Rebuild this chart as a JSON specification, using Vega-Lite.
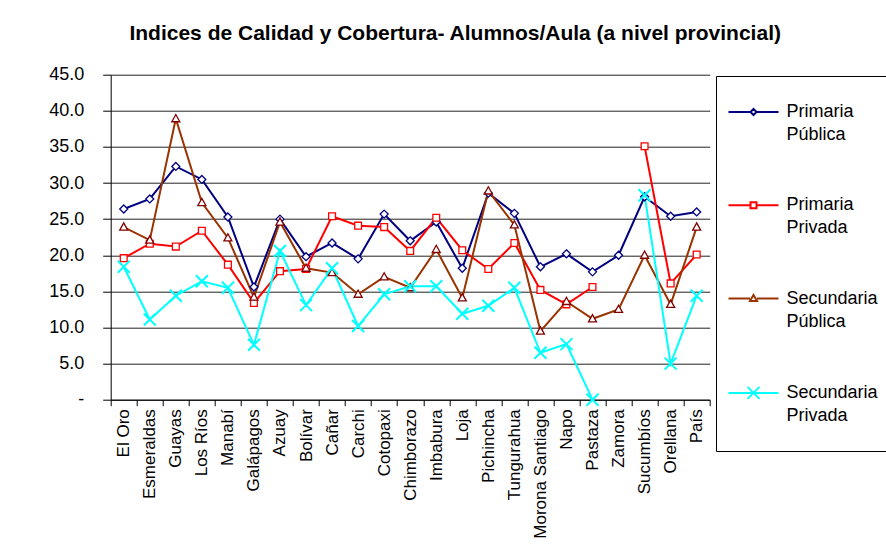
{
  "$schema": "https://vega.github.io/schema/vega-lite/v6.json",
  "width": 599,
  "height": 325,
  "autosize": {"type": "none"},
  "padding": {"left": 110.7, "top": 74.7, "right": 176.3, "bottom": 147.3},
  "background": "white",
  "config": {
    "font": "Liberation Sans",
    "view": {"stroke": null},
    "text": {"font": "Liberation Sans"}
  },
  "title": {
    "text": "Indices de Calidad y Cobertura- Alumnos/Aula (a nivel provincial)",
    "fontSize": 21,
    "fontWeight": "bold",
    "font": "Liberation Sans",
    "color": "black",
    "anchor": "middle",
    "dx": 45,
    "offset": 22
  },
  "data": {
    "values": [
      {"provincia": "El Oro", "serie": "Primaria Pública", "valor": 26.4},
      {"provincia": "Esmeraldas", "serie": "Primaria Pública", "valor": 27.8},
      {"provincia": "Guayas", "serie": "Primaria Pública", "valor": 32.3},
      {"provincia": "Los Ríos", "serie": "Primaria Pública", "valor": 30.5},
      {"provincia": "Manabí", "serie": "Primaria Pública", "valor": 25.3},
      {"provincia": "Galápagos", "serie": "Primaria Pública", "valor": 15.6},
      {"provincia": "Azuay", "serie": "Primaria Pública", "valor": 25.0},
      {"provincia": "Bolívar", "serie": "Primaria Pública", "valor": 19.8},
      {"provincia": "Cañar", "serie": "Primaria Pública", "valor": 21.7},
      {"provincia": "Carchi", "serie": "Primaria Pública", "valor": 19.5},
      {"provincia": "Cotopaxi", "serie": "Primaria Pública", "valor": 25.7},
      {"provincia": "Chimborazo", "serie": "Primaria Pública", "valor": 22.0},
      {"provincia": "Imbabura", "serie": "Primaria Pública", "valor": 24.6},
      {"provincia": "Loja", "serie": "Primaria Pública", "valor": 18.2},
      {"provincia": "Pichincha", "serie": "Primaria Pública", "valor": 28.6},
      {"provincia": "Tungurahua", "serie": "Primaria Pública", "valor": 25.8},
      {"provincia": "Morona Santiago", "serie": "Primaria Pública", "valor": 18.4},
      {"provincia": "Napo", "serie": "Primaria Pública", "valor": 20.2},
      {"provincia": "Pastaza", "serie": "Primaria Pública", "valor": 17.7},
      {"provincia": "Zamora", "serie": "Primaria Pública", "valor": 20.0},
      {"provincia": "Sucumbíos", "serie": "Primaria Pública", "valor": 28.1},
      {"provincia": "Orellana", "serie": "Primaria Pública", "valor": 25.4},
      {"provincia": "País", "serie": "Primaria Pública", "valor": 26.0},

      {"provincia": "El Oro", "serie": "Primaria Privada", "valor": 19.6},
      {"provincia": "Esmeraldas", "serie": "Primaria Privada", "valor": 21.6},
      {"provincia": "Guayas", "serie": "Primaria Privada", "valor": 21.2},
      {"provincia": "Los Ríos", "serie": "Primaria Privada", "valor": 23.4},
      {"provincia": "Manabí", "serie": "Primaria Privada", "valor": 18.7},
      {"provincia": "Galápagos", "serie": "Primaria Privada", "valor": 13.4},
      {"provincia": "Azuay", "serie": "Primaria Privada", "valor": 17.8},
      {"provincia": "Bolívar", "serie": "Primaria Privada", "valor": 18.1},
      {"provincia": "Cañar", "serie": "Primaria Privada", "valor": 25.4},
      {"provincia": "Carchi", "serie": "Primaria Privada", "valor": 24.1},
      {"provincia": "Cotopaxi", "serie": "Primaria Privada", "valor": 23.9},
      {"provincia": "Chimborazo", "serie": "Primaria Privada", "valor": 20.6},
      {"provincia": "Imbabura", "serie": "Primaria Privada", "valor": 25.2},
      {"provincia": "Loja", "serie": "Primaria Privada", "valor": 20.7},
      {"provincia": "Pichincha", "serie": "Primaria Privada", "valor": 18.1},
      {"provincia": "Tungurahua", "serie": "Primaria Privada", "valor": 21.7},
      {"provincia": "Morona Santiago", "serie": "Primaria Privada", "valor": 15.2},
      {"provincia": "Napo", "serie": "Primaria Privada", "valor": 13.2},
      {"provincia": "Pastaza", "serie": "Primaria Privada", "valor": 15.6},
      {"provincia": "Zamora", "serie": "Primaria Privada", "valor": null},
      {"provincia": "Sucumbíos", "serie": "Primaria Privada", "valor": 35.1},
      {"provincia": "Orellana", "serie": "Primaria Privada", "valor": 16.1},
      {"provincia": "País", "serie": "Primaria Privada", "valor": 20.1},

      {"provincia": "El Oro", "serie": "Secundaria Pública", "valor": 23.9},
      {"provincia": "Esmeraldas", "serie": "Secundaria Pública", "valor": 22.1},
      {"provincia": "Guayas", "serie": "Secundaria Pública", "valor": 38.9},
      {"provincia": "Los Ríos", "serie": "Secundaria Pública", "valor": 27.3},
      {"provincia": "Manabí", "serie": "Secundaria Pública", "valor": 22.4},
      {"provincia": "Galápagos", "serie": "Secundaria Pública", "valor": 14.2},
      {"provincia": "Azuay", "serie": "Secundaria Pública", "valor": 24.6},
      {"provincia": "Bolívar", "serie": "Secundaria Pública", "valor": 18.2},
      {"provincia": "Cañar", "serie": "Secundaria Pública", "valor": 17.6},
      {"provincia": "Carchi", "serie": "Secundaria Pública", "valor": 14.6},
      {"provincia": "Cotopaxi", "serie": "Secundaria Pública", "valor": 17.0},
      {"provincia": "Chimborazo", "serie": "Secundaria Pública", "valor": 15.5},
      {"provincia": "Imbabura", "serie": "Secundaria Pública", "valor": 20.8},
      {"provincia": "Loja", "serie": "Secundaria Pública", "valor": 14.1},
      {"provincia": "Pichincha", "serie": "Secundaria Pública", "valor": 28.9},
      {"provincia": "Tungurahua", "serie": "Secundaria Pública", "valor": 24.2},
      {"provincia": "Morona Santiago", "serie": "Secundaria Pública", "valor": 9.5},
      {"provincia": "Napo", "serie": "Secundaria Pública", "valor": 13.6},
      {"provincia": "Pastaza", "serie": "Secundaria Pública", "valor": 11.2},
      {"provincia": "Zamora", "serie": "Secundaria Pública", "valor": 12.5},
      {"provincia": "Sucumbíos", "serie": "Secundaria Pública", "valor": 20.0},
      {"provincia": "Orellana", "serie": "Secundaria Pública", "valor": 13.2},
      {"provincia": "País", "serie": "Secundaria Pública", "valor": 23.9},

      {"provincia": "El Oro", "serie": "Secundaria Privada", "valor": 18.4},
      {"provincia": "Esmeraldas", "serie": "Secundaria Privada", "valor": 11.1},
      {"provincia": "Guayas", "serie": "Secundaria Privada", "valor": 14.4},
      {"provincia": "Los Ríos", "serie": "Secundaria Privada", "valor": 16.4},
      {"provincia": "Manabí", "serie": "Secundaria Privada", "valor": 15.5},
      {"provincia": "Galápagos", "serie": "Secundaria Privada", "valor": 7.6},
      {"provincia": "Azuay", "serie": "Secundaria Privada", "valor": 20.6},
      {"provincia": "Bolívar", "serie": "Secundaria Privada", "valor": 13.1},
      {"provincia": "Cañar", "serie": "Secundaria Privada", "valor": 18.2},
      {"provincia": "Carchi", "serie": "Secundaria Privada", "valor": 10.2},
      {"provincia": "Cotopaxi", "serie": "Secundaria Privada", "valor": 14.6},
      {"provincia": "Chimborazo", "serie": "Secundaria Privada", "valor": 15.7},
      {"provincia": "Imbabura", "serie": "Secundaria Privada", "valor": 15.7},
      {"provincia": "Loja", "serie": "Secundaria Privada", "valor": 11.9},
      {"provincia": "Pichincha", "serie": "Secundaria Privada", "valor": 13.0},
      {"provincia": "Tungurahua", "serie": "Secundaria Privada", "valor": 15.5},
      {"provincia": "Morona Santiago", "serie": "Secundaria Privada", "valor": 6.5},
      {"provincia": "Napo", "serie": "Secundaria Privada", "valor": 7.7},
      {"provincia": "Pastaza", "serie": "Secundaria Privada", "valor": 0.0},
      {"provincia": "Zamora", "serie": "Secundaria Privada", "valor": null},
      {"provincia": "Sucumbíos", "serie": "Secundaria Privada", "valor": 28.3},
      {"provincia": "Orellana", "serie": "Secundaria Privada", "valor": 5.0},
      {"provincia": "País", "serie": "Secundaria Privada", "valor": 14.4}
    ]
  },
  "encoding": {
    "x": {
      "field": "provincia",
      "type": "nominal",
      "sort": null,
      "bandPosition": 0.5,
      "scale": {"type": "band", "paddingInner": 0, "paddingOuter": 0},
      "axis": {
        "title": null,
        "labelAngle": -90,
        "labelAlign": "right",
        "labelBaseline": "middle",
        "labelFontSize": 17,
        "labelColor": "black",
        "labelPadding": 3,
        "tickBand": "extent",
        "tickSize": 6,
        "tickColor": "black",
        "domainColor": "black",
        "grid": false,
        "labelLimit": 300
      }
    },
    "y": {
      "field": "valor",
      "type": "quantitative",
      "scale": {"domain": [0, 45], "nice": false, "zero": true},
      "axis": {
        "title": null,
        "values": [0, 5, 10, 15, 20, 25, 30, 35, 40, 45],
        "labelExpr": "datum.value == 0 ? '-' : format(datum.value, '.1f')",
        "labelFontSize": 18,
        "labelColor": "black",
        "labelPadding": 19,
        "tickSize": 8,
        "tickColor": "black",
        "domainColor": "black",
        "grid": true,
        "gridColor": "#222222",
        "gridWidth": 1,
        "gridOpacity": 1
      }
    }
  },
  "layer": [
    {
      "mark": {"type": "line", "strokeWidth": 2},
      "encoding": {
        "order": {"value": null},
        "color": {
          "field": "serie",
          "type": "nominal",
          "scale": {
            "domain": ["Primaria Pública", "Primaria Privada", "Secundaria Pública", "Secundaria Privada"],
            "range": ["#000080", "#FF0000", "#993300", "#00FFFF"]
          },
          "legend": {
            "orient": "none",
            "legendX": 605.3,
            "legendY": 1.3,
            "title": " ",
            "titleFontSize": 1,
            "titlePadding": 0,
            "padding": 26,
            "strokeColor": "black",
            "fillColor": "white",
            "labelFontSize": 18,
            "labelColor": "black",
            "labelFont": "Liberation Sans",
            "labelLimit": 300,
            "symbolSize": 100,
            "symbolOffset": 2.5,
            "labelOffset": 24,
            "rowPadding": 52.3,
            "symbolStrokeWidth": 2,
            "labelExpr": "split(datum.label, ' ')",
            "encode": {
              "symbols": {
                "update": {
                  "shape": {"signal": "datum.index == 0 ? 'M-5,0H-0.6M0.6,0H5M0,-0.6L0.6,0L0,0.6L-0.6,0Z' : datum.index == 1 ? 'M-5,0H-0.6M0.6,0H5M-0.6,-0.6H0.6V0.6H-0.6Z' : datum.index == 2 ? 'M-5,0H-0.7M0.7,0H5M0,-0.7L0.7,0.5H-0.7Z' : 'M-5,0H5M-1.2,-1.2L1.2,1.2M-1.2,1.2L1.2,-1.2'"},
                  "fill": {"value": "white"},
                  "fillOpacity": {"value": 1},
                  "opacity": {"value": 1}
                }
              },
              "labels": {
                "update": {
                  "lineHeight": {"value": 23}
                }
              }
            }
          }
        }
      }
    },
    {
      "mark": {"type": "point", "filled": false, "fill": "white", "fillOpacity": 1, "opacity": 1, "size": 64},
      "encoding": {
        "stroke": {
          "condition": [
            {"test": "datum.serie == 'Primaria Pública'", "value": "#000080"},
            {"test": "datum.serie == 'Primaria Privada'", "value": "#FF0000"},
            {"test": "datum.serie == 'Secundaria Pública'", "value": "#800000"}
          ],
          "value": "#00FFFF"
        },
        "shape": {
          "condition": [
            {"test": "datum.serie == 'Primaria Pública'", "value": "M0,-1L1,0L0,1L-1,0Z"},
            {"test": "datum.serie == 'Primaria Privada'", "value": "M-0.85,-0.85H0.85V0.85H-0.85Z"},
            {"test": "datum.serie == 'Secundaria Pública'", "value": "M0,-1.05L1,0.75H-1Z"}
          ],
          "value": "M-1.5,-1.5L1.5,1.5M-1.5,1.5L1.5,-1.5"
        },
        "strokeWidth": {
          "condition": {"test": "datum.serie == 'Secundaria Privada'", "value": 2},
          "value": 1.3
        }
      }
    }
  ]
}
